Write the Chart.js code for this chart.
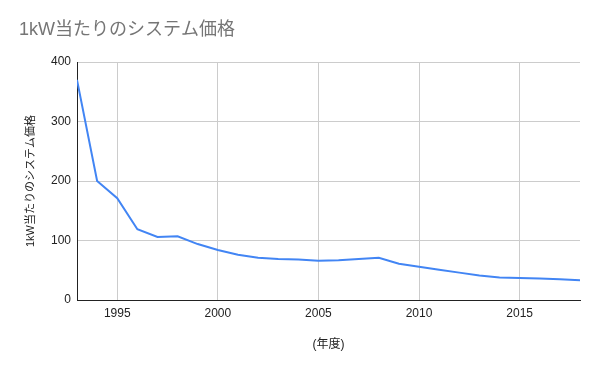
<!DOCTYPE html>
<html>
<head>
<meta charset="utf-8">
<script src="https://cdn.jsdelivr.net/npm/chart.js@4"></script>
<style>
  html, body { margin: 0; padding: 0; background: #fff; }
  #wrap { width: 600px; height: 371px; }
</style>
</head>
<body>
<div id="wrap"><canvas id="price_chart" width="600" height="371"></canvas></div>
<script>
const years = [1993, 1994, 1995, 1996, 1997, 1998, 1999, 2000, 2001, 2002, 2003, 2004, 2005,
               2006, 2007, 2008, 2009, 2010, 2011, 2012, 2013, 2014, 2015, 2016, 2017, 2018];
const prices = [370, 200, 171, 119, 106, 107, 94, 84, 76, 71, 69, 68, 66,
                67, 69, 71, 61, 56, 51, 46, 41, 38, 37, 36, 35, 33];
const xTicks = [1995, 2000, 2005, 2010, 2015];
const yTicks = [0, 100, 200, 300, 400];

const fontFamily = '"Liberation Sans", Arial, "Noto Sans CJK JP", sans-serif';

const ctx = document.getElementById('price_chart').getContext('2d');
const priceChart = new Chart(ctx, {
    type: 'line',
    data: {
        datasets: [
            {
                label: '1kW当たりのシステム価格',
                data: years.map((y, i) => ({ x: y, y: prices[i] })),
                borderColor: '#4285F4',
                backgroundColor: '#4285F4',
                borderWidth: 2,
                pointRadius: 0,
                tension: 0
            }
        ]
    },
    options: {
        responsive: false,
        animation: false,
        layout: { padding: { left: 19, right: 20, top: 0, bottom: 0 } },
        plugins: {
            legend: { display: false },
            tooltip: { enabled: false },
            title: {
                display: true,
                text: '1kW当たりのシステム価格',
                align: 'start',
                color: '#757575',
                font: { family: fontFamily, size: 18, weight: 'normal' },
                padding: { top: 19, bottom: 21.4 }
            }
        },
        scales: {
            x: {
                type: 'linear',
                min: 1993,
                max: 2018,
                afterBuildTicks: function(scale) {
                    scale.ticks = xTicks.map(v => ({ value: v }));
                },
                afterFit: function(scale) {
                    scale.height = 71;
                },
                ticks: {
                    color: '#222',
                    font: { family: fontFamily, size: 12 },
                    padding: 6,
                    maxRotation: 0,
                    callback: function(value) {
                        return String(value);
                    }
                },
                grid: { color: '#cccccc', drawTicks: false },
                border: { color: '#222', width: 1 },
                title: {
                    display: true,
                    text: '(年度)',
                    color: '#222',
                    font: { family: fontFamily, size: 12 },
                    padding: { top: 0, bottom: 19 }
                }
            },
            y: {
                min: 0,
                max: 400,
                afterBuildTicks: function(scale) {
                    scale.ticks = yTicks.map(v => ({ value: v }));
                },
                afterFit: function(scale) {
                    scale.width = 58;
                },
                ticks: {
                    color: '#222',
                    font: { family: fontFamily, size: 12 },
                    padding: 6
                },
                grid: { color: '#cccccc', drawTicks: false },
                border: { color: '#222', width: 1 },
                title: {
                    display: true,
                    text: '1kW当たりのシステム価格',
                    color: '#222',
                    font: { family: fontFamily, size: 11 },
                    padding: { top: 5, bottom: 0 }
                }
            }
        }
    }
});
</script>
</body>
</html>
